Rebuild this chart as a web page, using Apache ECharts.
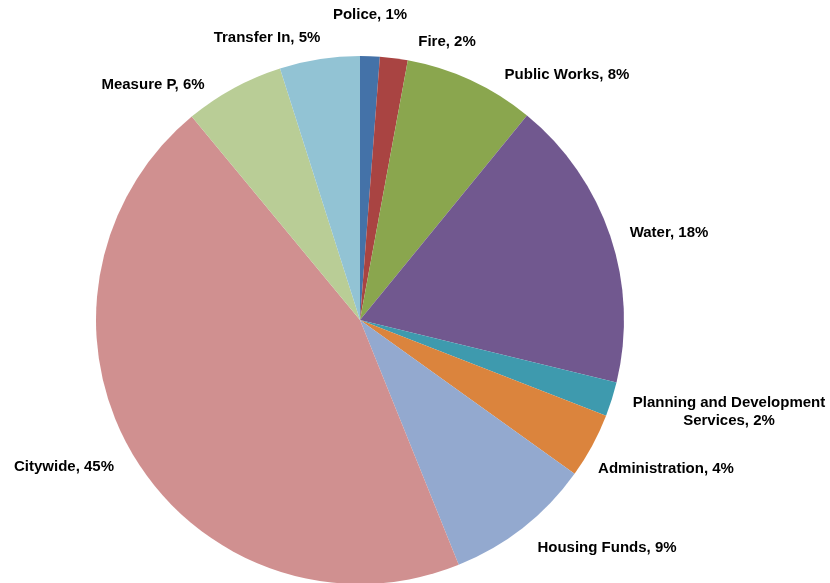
<!DOCTYPE html>
<html>
<head>
<meta charset="utf-8">
<script src="https://cdn.jsdelivr.net/npm/echarts@6/dist/echarts.min.js"></script>
<style>
html,body{margin:0;padding:0;background:#fff;}
#chart{width:830px;height:583px;}
</style>
</head>
<body>
<div id="chart"></div>
<script>
// Data
var categories = ['Police', 'Fire', 'Public Works', 'Water', 'Planning and Development\nServices', 'Administration', 'Housing Funds', 'Citywide', 'Measure P', 'Transfer In'];
var values = [1.2, 1.7, 8.0, 17.9, 2.1, 4.0, 9.0, 45.1, 6.1, 4.9];

// Styles
var colors = ['#4472A8', '#A94442', '#8AA64E', '#71588F', '#3E9AAE', '#DB843D', '#93A9CF', '#D09090', '#B9CD96', '#92C3D4'];
var labelCenters = [[370, 15], [447, 42], [567, 75], [669, 233], [729, 412], [666, 469], [607, 548], [64, 467], [153, 85], [267, 38]];

var chart = echarts.init(document.getElementById('chart'), null, {renderer: 'canvas'});
var data = categories.map(function (c, i) {
  return { name: c, value: values[i], itemStyle: { color: colors[i] } };
});

chart.setOption({
  animation: false,
  backgroundColor: '#ffffff',
  series: [{
    type: 'pie',
    center: [360, 320],
    radius: [0, 264],
    startAngle: 90,
    clockwise: true,
    data: data,
    itemStyle: { borderWidth: 0 },
    label: {
      show: true,
      position: 'outside',
      formatter: function (p) { return p.name + ', ' + Math.round(p.percent) + '%'; },
      fontFamily: 'Liberation Sans, Arial, sans-serif',
      fontWeight: 'bold',
      fontSize: 15,
      color: '#000',
      align: 'center',
      lineHeight: 18,
      overflow: 'none',
      width: 300
    },
    labelLine: { show: false },
    labelLayout: function (params) {
      var c = labelCenters[params.dataIndex];
      return { x: c[0], y: c[1], align: 'center', verticalAlign: 'middle' };
    },
    emphasis: { disabled: true }
  }]
});
</script>
</body>
</html>
